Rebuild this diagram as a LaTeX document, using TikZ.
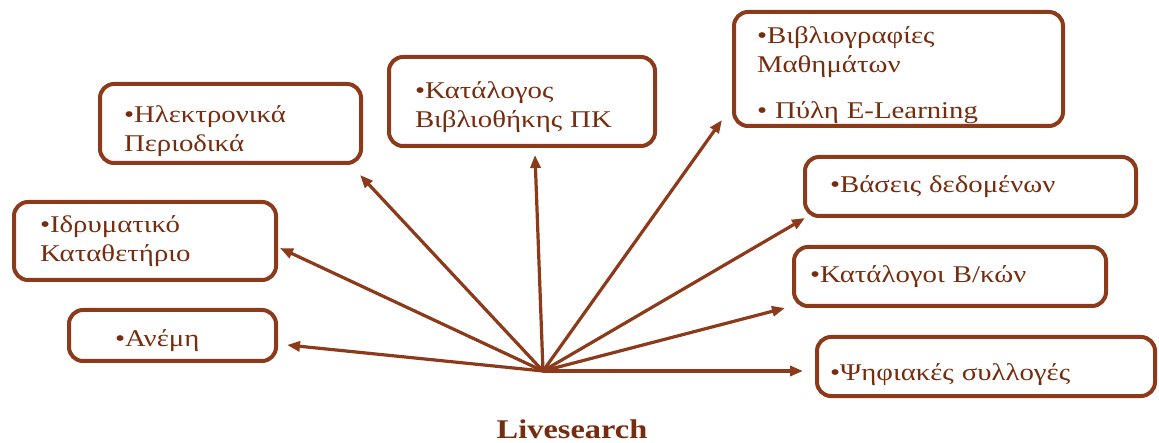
\documentclass[tikz,border=0pt]{standalone}
\usepackage{fontspec}
\setmainfont{Liberation Serif}
\newfontfamily\boxfont[FakeStretch=1.2]{Liberation Serif}
\usetikzlibrary{arrows.meta}
\definecolor{boxbrown}{RGB}{140,58,26}
\definecolor{txtbrown}{RGB}{118,44,14}
\tikzset{
  box/.style={draw=boxbrown, line width=4pt, rounded corners=14pt, align=left,
    text=txtbrown, font=\boxfont\fontsize{24}{29}\selectfont, inner ysep=0pt},
  lower/.style={execute at begin node={\rule{0pt}{#1}}},
  arr/.style={-{Triangle[length=13pt,width=10pt]}, line width=3.2pt, draw=boxbrown}
}
\begin{document}
\begin{tikzpicture}[x=1pt, y=-1pt]
\useasboundingbox (0,0) rectangle (1159,443);
\node[box, lower=33pt, minimum height=79pt, text width=213pt, inner xsep=24pt] (elec) at (230.5,123.5) {•Ηλεκτρονικά\\Περιοδικά};
\node[box, minimum height=78pt, text width=210pt, inner xsep=26pt] (idry) at (145,241) {•Ιδρυματικό\\Καταθετήριο};
\node[box, lower=27pt, minimum height=51pt, text width=115pt, inner xsep=46pt] (anemi) at (172.5,335.5) {•Ανέμη};
\node[box, lower=29pt, minimum height=89pt, text width=214pt, inner xsep=26pt] (katal) at (522,101.5) {•Κατάλογος\\Βιβλιοθήκης ΠΚ};
\node[box, lower=29pt, minimum height=114pt, text width=283pt, inner xsep=23pt] (biblio) at (898.5,69) {•Βιβλιογραφίες\\Μαθημάτων\\[17pt]• Πύλη E-Learning};
\node[box, minimum height=59pt, text width=281pt, inner xsep=25pt] (vaseis) at (970.5,186.5) {•Βάσεις δεδομένων};
\node[box, minimum height=59pt, text width=280pt, inner xsep=16pt] (katalogoi) at (950,276.5) {•Κατάλογοι Β/κών};
\node[box, lower=33pt, minimum height=59pt, text width=312pt, inner xsep=13pt] (psif) at (986,366.5) {•Ψηφιακές συλλογές};
\node[font=\boxfont\bfseries\fontsize{27}{32}\selectfont, text=txtbrown, inner sep=0pt] (live) at (572,429) {Livesearch};
\coordinate (hub) at (543,371);
\draw [arr] (hub) -- ([xshift=-3pt,yshift=-10pt]elec.south east);
\draw [arr] (hub) -- ([xshift=2pt,yshift=-7pt]idry.east);
\draw [arr] (hub) -- ([xshift=9pt,yshift=-9.5pt]anemi.east);
\draw [arr] (hub) -- ([xshift=13pt,yshift=-7pt]katal.south);
\draw [arr] (hub) -- ([xshift=-10pt,yshift=8pt]biblio.south west);
\draw [arr] (hub) -- ([xshift=2pt]vaseis.south west);
\draw [arr] (hub) -- ([xshift=-7pt]katalogoi.south west);
\draw [arr] (hub) -- ([xshift=-12pt,yshift=-4.5pt]psif.west);
\end{tikzpicture}
\end{document}
